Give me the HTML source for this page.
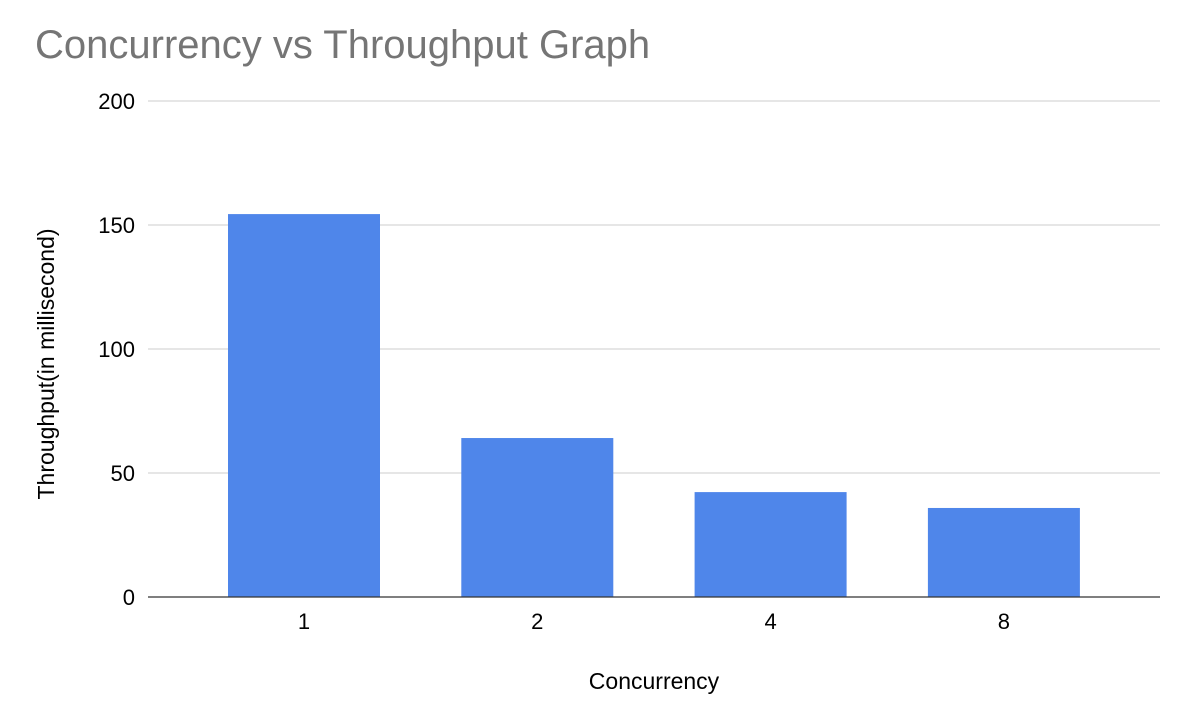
<!DOCTYPE html>
<html><head><meta charset="utf-8"><style>
body{margin:0;background:#fff;}
svg{display:block;font-family:"Liberation Sans",Arial,sans-serif;}
</style></head><body>
<svg id="chart" width="1186" height="714">
<text x="35" y="58" font-size="40" fill="#757575">Concurrency vs Throughput Graph</text>
<g id="grid"></g><g id="bars"></g><g id="xlabels"></g>
<line x1="148" y1="597" x2="1160" y2="597" stroke="#333" stroke-width="1.3"/>
<text x="654" y="689" font-size="23" text-anchor="middle" fill="#000">Concurrency</text>
<text transform="translate(54,364) rotate(-90)" font-size="23" text-anchor="middle" fill="#000">Throughput(in millisecond)</text>
</svg>
<script>
const categories=["1","2","4","8"];
const values=[154.4,64.1,42.3,35.9];
const yTicks=[0,50,100,150,200];
const ns="http://www.w3.org/2000/svg";
function y(v){return 597-v*2.48;}
function xc(i){return 304+i*233.3;}
function mk(tag,attrs,parent,text){const e=document.createElementNS(ns,tag);for(const k in attrs)e.setAttribute(k,attrs[k]);if(text!==undefined)e.textContent=text;document.getElementById(parent).appendChild(e);return e;}
yTicks.forEach(t=>{
 if(t>0){const l=mk("line",{x1:148,x2:1160,y1:y(t),y2:y(t),stroke:"#ccc","stroke-width":1},"grid");
 
 }
 const tx=mk("text",{x:135,y:y(t)+8,"font-size":22,"text-anchor":"end",fill:"#000"},"grid",String(t));
 
 
});
categories.forEach((c,i)=>{
 const r=mk("rect",{x:xc(i)-76,y:y(values[i]),width:152,height:values[i]*2.48,fill:"#4f86ea"},"bars");
 
 
 const t=mk("text",{x:xc(i),y:629,"font-size":22,"text-anchor":"middle",fill:"#000"},"xlabels",c);
 
 
});
</script>
</body></html>
